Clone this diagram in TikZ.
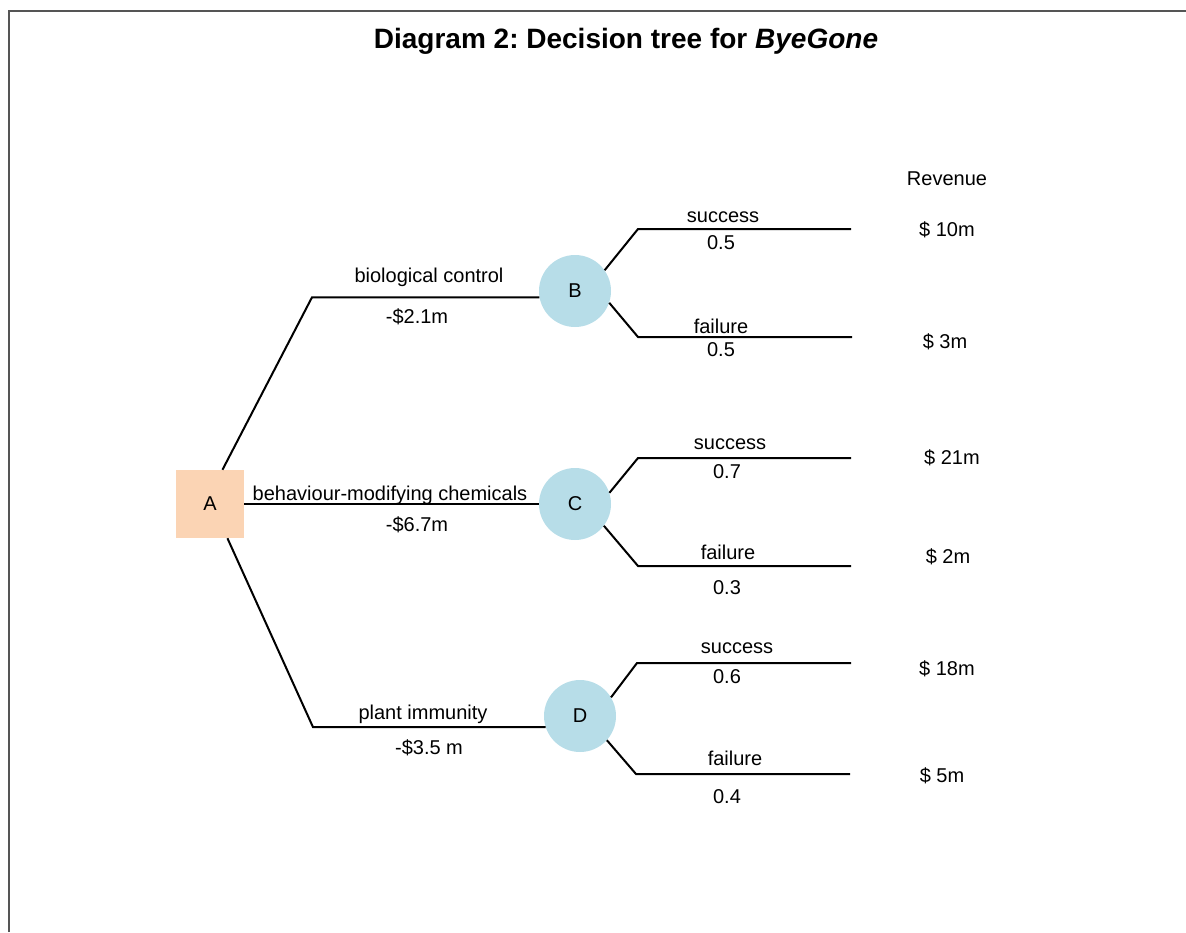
\documentclass[tikz,border=0pt]{standalone}
\usepackage{fontspec}
\setmainfont{Liberation Sans}
\frenchspacing
\definecolor{chanceblue}{HTML}{B7DDE8}
\definecolor{decisionpeach}{HTML}{FBD4B4}
\definecolor{framegray}{HTML}{555555}
\begin{document}
\begin{tikzpicture}[x=1pt,y=-1pt,
  branch/.style={line width=2pt, black, line join=miter},
  framestyle/.style={line width=2pt, framegray},
  chance/.style={circle, fill=chanceblue, minimum size=72pt, inner sep=0pt,
    font=\fontsize{20}{24}\selectfont},
  decision/.style={rectangle, fill=decisionpeach, minimum size=68pt, inner sep=0pt,
    font=\fontsize{20}{24}\selectfont},
  lbl/.style={anchor=base, inner sep=0pt, font=\fontsize{20}{24}\selectfont},
  titlestyle/.style={anchor=base, inner sep=0pt, font=\fontsize{28}{32}\selectfont\bfseries},
]
\useasboundingbox (0,0) rectangle (1186,932);

% outer frame (top and left edges)
\coordinate (fbl) at (9,932);
\coordinate (ftl) at (9,10.5);
\coordinate (ftr) at (1186,10.5);
\draw[framestyle] (fbl) -- (ftl) -- (ftr);

% title
\node[titlestyle] (title) at (626,48) {Diagram 2: Decision tree for \textit{ByeGone}};

% decision and chance nodes
\node[decision] (A) at (210,504) {A};
\node[chance] (B) at (575,291) {B};
\node[chance] (C) at (575,504) {C};
\node[chance] (D) at (580,716) {D};

% bends and free ends of the branches
\coordinate (ab) at (312,297.3);
\coordinate (ad) at (313,727.1);
\coordinate (bs) at (638,229);  \coordinate (bse) at (851,229);
\coordinate (bf) at (638,337);  \coordinate (bfe) at (852,337);
\coordinate (cs) at (638,458);  \coordinate (cse) at (851,458);
\coordinate (cf) at (638,566);  \coordinate (cfe) at (851,566);
\coordinate (ds) at (637,663);  \coordinate (dse) at (851,663);
\coordinate (df) at (636,774);  \coordinate (dfe) at (850,774);

% decision branches
\draw[branch] (A.70) -- (ab) -- (B.190);
\draw[branch] (A.east) -- (C.west);
\draw[branch] (A.-63) -- (ad) -- (D.198);

% chance branches
\draw[branch] (B.35) -- (bs) -- (bse);
\draw[branch] (B.-19) -- (bf) -- (bfe);
\draw[branch] (C.18) -- (cs) -- (cse);
\draw[branch] (C.-37) -- (cf) -- (cfe);
\draw[branch] (D.31) -- (ds) -- (dse);
\draw[branch] (D.-42) -- (df) -- (dfe);

% decision labels and costs
\node[lbl] (l1) at (429,282) {biological control};
\node[lbl] (c1) at (417,323) {-\$2.1m};
\node[lbl] (l2) at (390,500) {behaviour-modifying chemicals};
\node[lbl] (c2) at (417,531) {-\$6.7m};
\node[lbl] (l3) at (423,719) {plant immunity};
\node[lbl] (c3) at (429,754) {-\$3.5 m};

% outcome labels and probabilities
\node[lbl] (bsl) at (723,222) {success};
\node[lbl] (bsp) at (721,249) {0.5};
\node[lbl] (bfl) at (721,333) {failure};
\node[lbl] (bfp) at (721,356) {0.5};
\node[lbl] (csl) at (730,449) {success};
\node[lbl] (csp) at (727,478) {0.7};
\node[lbl] (cfl) at (728,559) {failure};
\node[lbl] (cfp) at (727,594) {0.3};
\node[lbl] (dsl) at (737,653) {success};
\node[lbl] (dsp) at (727,683) {0.6};
\node[lbl] (dfl) at (735,765) {failure};
\node[lbl] (dfp) at (727,803) {0.4};

% revenue column
\node[lbl] (rev) at (947,185) {Revenue};
\node[lbl] (r1) at (947,236) {\$ 10m};
\node[lbl] (r2) at (945,348) {\$ 3m};
\node[lbl] (r3) at (952,464) {\$ 21m};
\node[lbl] (r4) at (948,563) {\$ 2m};
\node[lbl] (r5) at (947,675) {\$ 18m};
\node[lbl] (r6) at (942,782) {\$ 5m};
\end{tikzpicture}
\end{document}
